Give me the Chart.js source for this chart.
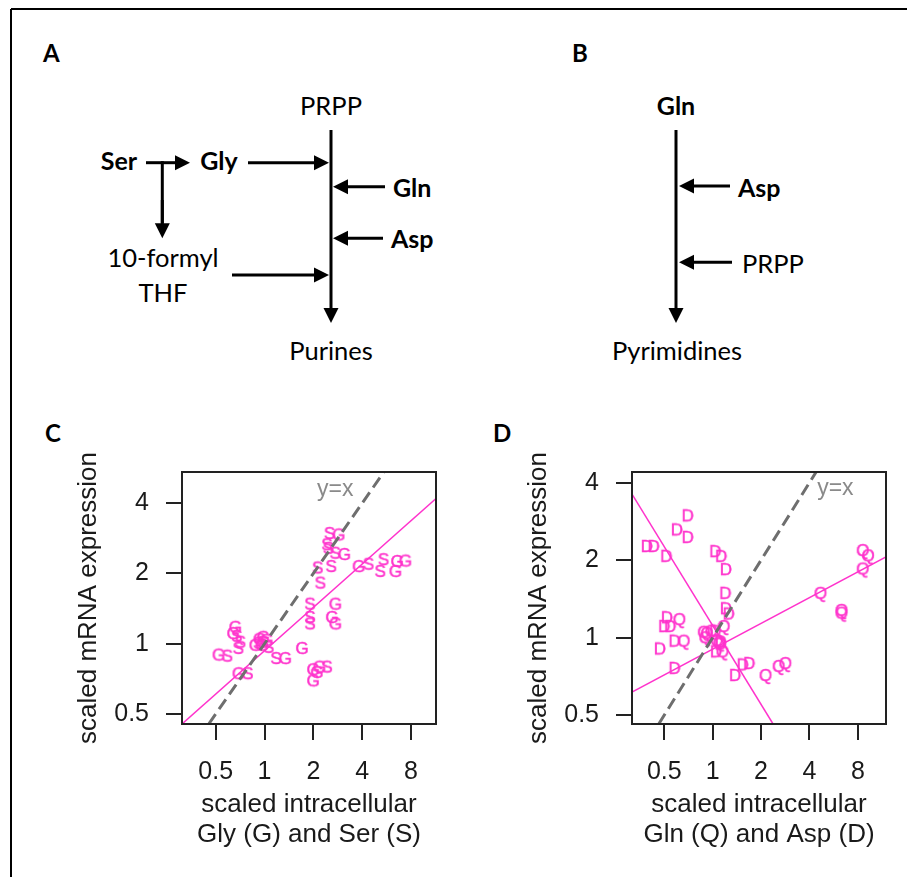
<!DOCTYPE html>
<html>
<head>
<meta charset="utf-8">
<script src="https://cdn.jsdelivr.net/npm/chart.js@4.4.0/dist/chart.umd.min.js"></script>
<style>
  html, body { margin: 0; padding: 0; background: #fff; }
  #page { position: relative; width: 907px; height: 877px; overflow: hidden; }
  #diagram { position: absolute; left: 0; top: 0; }
  .plot { position: absolute; top: 440px; width: 390px; height: 430px; }
  #plotC { left: 60px; }
  #plotD { left: 510px; }
</style>
</head>
<body>
<div id="page">
  <svg id="diagram" width="907" height="877"></svg>
  <div class="plot" id="plotC"><canvas id="chartC" width="390" height="430"></canvas></div>
  <div class="plot" id="plotD"><canvas id="chartD" width="390" height="430"></canvas></div>
</div>
<script>
// ---- data: panel C (Gly / Ser) ----
const cGlyX = [2.86, 3.10, 3.80, 6.56, 7.38, 6.40, 2.73, 2.60, 2.73, 0.66, 0.64, 0.877, 0.93, 1.03, 0.96, 0.98, 0.52, 1.34, 1.70, 0.69, 1.99, 2.18, 1.99, 2.10];
const cGlyY = [2.91, 2.40, 2.13, 2.24, 2.25, 2.03, 1.47, 1.29, 1.21, 1.17, 1.10, 0.98, 1.04, 1.03, 0.98, 1.06, 0.89, 0.86, 0.95, 0.74, 0.77, 0.79, 0.69, 0.75];
const cSerX = [2.52, 2.43, 2.48, 2.73, 4.38, 5.42, 5.17, 2.13, 2.58, 2.21, 1.91, 1.91, 1.91, 0.675, 0.71, 0.69, 0.59, 0.98, 1.06, 0.92, 1.18, 0.79, 2.43];
const cSerY = [2.95, 2.64, 2.55, 2.43, 2.18, 2.28, 2.03, 2.10, 2.13, 1.81, 1.47, 1.29, 1.21, 1.07, 1.01, 0.95, 0.88, 1.01, 0.96, 1.00, 0.86, 0.74, 0.79];
const cFitX = [0.31, 11.4];
const cFitY = [0.453, 4.19];

// ---- data: panel D (Gln / Asp) ----
const dAspX = [0.70, 0.60, 0.70, 0.39, 0.43, 0.515, 1.04, 1.13, 1.21, 1.20, 1.21, 1.26, 0.52, 0.50, 0.545, 0.58, 0.47, 1.04, 1.12, 1.05, 0.58, 1.38, 1.54, 1.69, 1.12];
const dAspY = [2.96, 2.61, 2.44, 2.25, 2.25, 2.06, 2.15, 2.06, 1.83, 1.48, 1.29, 1.23, 1.19, 1.10, 1.10, 0.965, 0.90, 1.055, 0.94, 0.877, 0.756, 0.71, 0.78, 0.79, 0.96];
const dGlnX = [8.57, 9.25, 8.57, 4.68, 6.32, 6.32, 1.17, 0.62, 0.66, 0.88, 0.92, 0.98, 0.90, 1.06, 1.15, 2.13, 2.57, 2.83, 1.10];
const dGlnY = [2.17, 2.07, 1.84, 1.48, 1.27, 1.24, 1.10, 1.17, 0.965, 1.045, 1.036, 1.055, 0.995, 0.97, 0.877, 0.71, 0.77, 0.79, 0.95];
const dGlnFitX = [0.315, 11.97];
const dGlnFitY = [0.615, 2.06];
const dAspFitX = [0.315, 2.375];
const dAspFitY = [3.61, 0.462];

// axis ranges and ticks
const cXRange = [0.31, 11.4];
const cYRange = [0.453, 5.44];
const dXRange = [0.315, 11.97];
const dYRange = [0.462, 4.4];
const xTickVals = [0.5, 1, 2, 4, 8];
const yTickVals = [0.5, 1, 2, 4];

const PINK = '#ff33cc';
const INK = '#1a1a1a';

Chart.defaults.font.family = '"Liberation Sans", Arial, sans-serif';
Chart.defaults.color = INK;

// ---- pathway diagrams (A, B) as svg ----
const svg = document.getElementById('diagram');
const NS = 'http://www.w3.org/2000/svg';

function el(tag, attrs, text) {
  const e = document.createElementNS(NS, tag);
  for (const k in attrs) e.setAttribute(k, attrs[k]);
  if (text) e.textContent = text;
  svg.appendChild(e);
  return e;
}

function label(x, y, text, bold, anchor, size) {
  el('text', {
    x: x, y: y, 'font-family': 'Lato, "Open Sans", sans-serif',
    'font-size': size || (bold ? 24 : 25.5), 'font-weight': bold ? 'bold' : 'normal',
    'text-anchor': anchor || 'middle', fill: '#000'
  }, text);
}

function arrow(x1, y1, x2, y2) {
  const len = Math.hypot(x2 - x1, y2 - y1);
  const ux = (x2 - x1) / len, uy = (y2 - y1) / len;
  const hl = 15, hw = 7.5;
  const bx = x2 - ux * hl, by = y2 - uy * hl;
  el('line', { x1: x1, y1: y1, x2: bx, y2: by, stroke: '#000', 'stroke-width': 3 });
  el('polygon', {
    points: `${x2},${y2} ${bx - uy * hw},${by + ux * hw} ${bx + uy * hw},${by - ux * hw}`,
    fill: '#000'
  });
}

// outer frame (top and left only)
el('line', { x1: 11, y1: 9, x2: 907, y2: 9, stroke: '#000', 'stroke-width': 2 });
el('line', { x1: 11, y1: 9, x2: 11, y2: 877, stroke: '#000', 'stroke-width': 2 });

// panel letters
label(43, 62, 'A', true, 'start');
label(572, 62, 'B', true, 'start');
label(45, 442, 'C', true, 'start');
label(493, 442, 'D', true, 'start');

// A
label(331, 115, 'PRPP', false);
label(119, 170, 'Ser', true, 'middle', 25);
label(219, 170, 'Gly', true, 'middle', 25);
label(393, 197, 'Gln', true, 'start', 25);
label(391, 248, 'Asp', true, 'start', 25);
label(163, 267, '10-formyl', false);
label(163, 302, 'THF', false);
label(331, 360, 'Purines', false);
arrow(331, 130, 331, 323);
arrow(146, 162.7, 190, 162.7);
el('line', { x1: 162.3, y1: 161.2, x2: 162.3, y2: 224, stroke: '#000', 'stroke-width': 3 });
arrow(162.3, 200, 162.3, 238.3);
arrow(248, 162.7, 329, 162.7);
arrow(385, 186.7, 333, 186.7);
arrow(383, 238.3, 333, 238.3);
arrow(232, 275, 329, 275);

// B
label(676, 115, 'Gln', true, 'middle', 25);
label(738, 197, 'Asp', true, 'start', 25);
label(742, 273, 'PRPP', false, 'start');
label(677, 360, 'Pyrimidines', false);
arrow(676, 130, 676, 323);
arrow(730, 186, 679, 186);
arrow(732, 262.3, 679, 262.3);

// ---- scatter plots (C, D) ----
function letterStyle(ch) {
  const c = document.createElement('canvas');
  c.width = 22; c.height = 24;
  const g = c.getContext('2d');
  g.font = '17px "Liberation Sans", Arial, sans-serif';
  g.fillStyle = PINK;
  g.strokeStyle = PINK;
  g.lineWidth = 0.5;
  g.textAlign = 'center';
  g.textBaseline = 'middle';
  g.fillText(ch, 11, 12.5);
  g.strokeText(ch, 11, 12.5);
  return c;
}

function pts(xs, ys) {
  return xs.map((x, i) => ({ x: x, y: ys[i] }));
}

const framePlugin = {
  id: 'frame',
  afterDraw(chart) {
    const { ctx, chartArea: a } = chart;
    ctx.save();
    ctx.strokeStyle = '#222';
    ctx.lineWidth = 2;
    ctx.strokeRect(a.left, a.top, a.right - a.left, a.bottom - a.top);
    ctx.restore();
  }
};

const yxPlugin = {
  id: 'yxLabel',
  afterDatasetsDraw(chart, args, opts) {
    const { ctx, scales } = chart;
    ctx.save();
    ctx.font = '23px "Liberation Sans", Arial, sans-serif';
    ctx.fillStyle = '#8a8a8a';
    ctx.textAlign = 'center';
    ctx.textBaseline = 'middle';
    ctx.fillText('y=x', scales.x.getPixelForValue(opts.x), scales.y.getPixelForValue(opts.y));
    ctx.restore();
  }
};

function logAxis(range, tickVals, fitSide, fitSize, title, titlePad) {
  return {
    type: 'logarithmic',
    min: range[0],
    max: range[1],
    bounds: 'data',
    afterBuildTicks: s => {
      s.ticks = tickVals.map(v => ({ value: v }));
      s.min = range[0];
      s.max = range[1];
    },
    afterFit: s => { s[fitSide] = fitSize; },
    ticks: {
      autoSkip: false, maxRotation: 0, minRotation: 0, padding: 17,
      font: { size: 25 }, color: INK,
      callback: v => String(v)
    },
    grid: { drawOnChartArea: false, drawTicks: true, tickLength: 16, color: '#222', lineWidth: 2 },
    border: { display: false },
    title: { display: true, text: title, color: INK, font: { size: 26, lineHeight: '30px' }, padding: titlePad }
  };
}

function makeChart(id, cfg) {
  return new Chart(document.getElementById(id).getContext('2d'), {
    type: 'scatter',
    data: { datasets: cfg.datasets },
    options: {
      responsive: false,
      animation: false,
      layout: { padding: { top: 29, right: 14, left: 0, bottom: 0 } },
      plugins: { legend: { display: false }, tooltip: { enabled: false }, yxLabel: cfg.yx },
      scales: {
        x: logAxis(cfg.xRange, xTickVals, 'height', 146, cfg.xTitle, { top: 0, bottom: 20 }),
        y: logAxis(cfg.yRange, yTickVals, 'width', 122, 'scaled mRNA expression', { top: 14, bottom: 0 })
      }
    },
    plugins: [framePlugin, yxPlugin]
  });
}

function lineSet(xs, ys, color, width, dash) {
  return {
    data: pts(xs, ys), showLine: true, borderColor: color, borderWidth: width,
    borderDash: dash || [], pointRadius: 0, fill: false
  };
}

function letterSet(xs, ys, ch) {
  return { data: pts(xs, ys), pointStyle: letterStyle(ch), pointRadius: 8 };
}

makeChart('chartC', {
  xRange: cXRange, yRange: cYRange,
  xTitle: ['scaled intracellular', 'Gly (G) and Ser (S)'],
  yx: { x: 2.73, y: 4.58 },
  datasets: [
    lineSet(cYRange, cYRange, '#6e6e6e', 3, [12, 6]),
    lineSet(cFitX, cFitY, PINK, 1.5),
    letterSet(cGlyX, cGlyY, 'G'),
    letterSet(cSerX, cSerY, 'S')
  ]
});

makeChart('chartD', {
  xRange: dXRange, yRange: dYRange,
  xTitle: ['scaled intracellular', 'Gln (Q) and Asp (D)'],
  yx: { x: 5.80, y: 3.80 },
  datasets: [
    lineSet(dYRange, dYRange, '#6e6e6e', 3, [12, 6]),
    lineSet(dGlnFitX, dGlnFitY, PINK, 1.5),
    lineSet(dAspFitX, dAspFitY, PINK, 1.5),
    letterSet(dGlnX, dGlnY, 'Q'),
    letterSet(dAspX, dAspY, 'D')
  ]
});
</script>
</body>
</html>
